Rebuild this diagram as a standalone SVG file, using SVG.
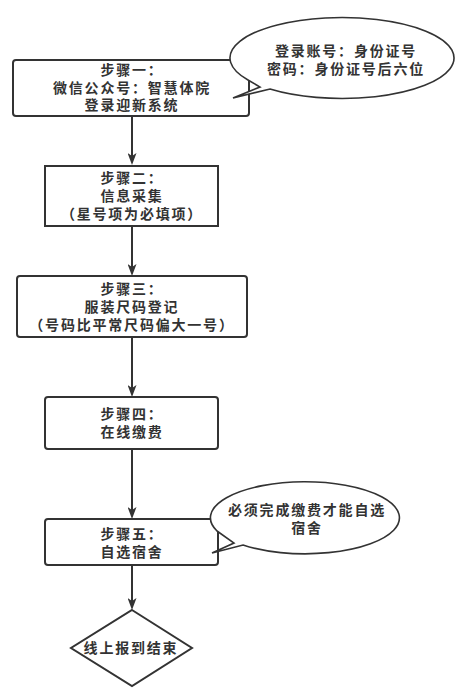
<svg xmlns="http://www.w3.org/2000/svg" width="463" height="694" viewBox="0 0 463 694">
<style>
.box{fill:#fff;stroke:#333;stroke-width:2}
.call{fill:#fff;stroke:#333;stroke-width:1.6;stroke-linejoin:miter}
.conn{fill:none;stroke:#333;stroke-width:2}
text{font-family:"Liberation Sans","Noto Sans CJK SC",sans-serif;font-size:14px;font-weight:bold;fill:#333;text-anchor:middle;letter-spacing:1.8px}
</style>
<defs>
<marker id="arr" markerUnits="userSpaceOnUse" viewBox="0 0 12 9" refX="8" refY="4.5" markerWidth="12" markerHeight="9" orient="auto">
<path d="M0,0 L12,4.5 L0,9 L3,4.5 Z" fill="#333"/>
</marker>
</defs>
<rect width="463" height="694" fill="#fff"/>
<g id="connectors">
<line class="conn" x1="132" y1="116" x2="132" y2="161" marker-end="url(#arr)"/>
<line class="conn" x1="132" y1="226" x2="132" y2="272" marker-end="url(#arr)"/>
<line class="conn" x1="132" y1="337" x2="132" y2="393" marker-end="url(#arr)"/>
<line class="conn" x1="132" y1="449" x2="132" y2="515" marker-end="url(#arr)"/>
<line class="conn" x1="132" y1="565" x2="132" y2="606" marker-end="url(#arr)"/>
</g>
<g id="step1">
<rect class="box" x="13" y="60" width="236" height="56" rx="3"/>
<text x="132" y="75">步骤一：</text>
<text x="132" y="92.5">微信公众号：智慧体院</text>
<text x="132" y="110">登录迎新系统</text>
</g>
<g id="note1">
<path class="call" d="M248,80 L260,87 L233,98 L270,89 A112 40.5 0 1 0 248,80 Z"/>
<text x="346" y="56">登录账号：身份证号</text>
<text x="346" y="74">密码：身份证号后六位</text>
</g>
<g id="step2">
<rect class="box" x="45" y="166" width="173" height="60"/>
<text x="132" y="183">步骤二：</text>
<text x="132" y="201">信息采集</text>
<text x="132" y="219">（星号项为必填项）</text>
</g>
<g id="step3">
<rect class="box" x="17" y="276" width="230" height="61" rx="3"/>
<text x="132" y="294">步骤三：</text>
<text x="132" y="312">服装尺码登记</text>
<text x="132" y="330">（号码比平常尺码偏大一号）</text>
</g>
<g id="step4">
<rect class="box" x="45" y="397" width="173" height="52" rx="3"/>
<text x="132" y="419">步骤四：</text>
<text x="132" y="437">在线缴费</text>
</g>
<g id="step5">
<rect class="box" x="45" y="519" width="173" height="46" rx="3"/>
<text x="132" y="539">步骤五：</text>
<text x="132" y="557">自选宿舍</text>
</g>
<g id="note2">
<path class="call" d="M217,531 L234,543 L212,553 L243,545 A94.5 36 0 1 0 217,531 Z"/>
<text x="307" y="515">必须完成缴费才能自选</text>
<text x="307" y="533">宿舍</text>
</g>
<g id="end">
<polygon class="box" points="132,610 192,648 132,686 71,648"/>
<text x="131" y="653">线上报到结束</text>
</g>
</svg>
